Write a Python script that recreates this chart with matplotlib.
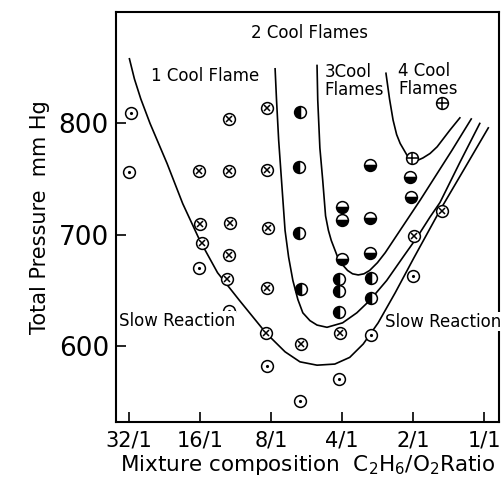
import matplotlib.pyplot as plt
import numpy as np

# x axis is log2 of the C2H6/O2 ratio (32/1 -> 5 ... 1/1 -> 0)
ratio_ticks = [5, 4, 3, 2, 1, 0]
ratio_labels = ["32/1", "16/1", "8/1", "4/1", "2/1", "1/1"]
pressure_ticks = [600, 700, 800]

# boundary curves
slow_x = [4.99, 4.92, 4.83, 4.70, 4.58, 4.46, 4.24, 4.00, 3.75, 3.44, 3.07, 2.80, 2.59, 2.35, 2.10, 1.89, 1.70, 1.49, 1.25, 0.99, 0.62, 0.27, -0.06]
slow_y = [858, 840, 822, 800, 782, 764, 728, 695, 666, 641, 612, 595, 586, 583, 584, 590, 602, 621, 648, 679, 722, 760, 796]

two_x = [2.94, 2.92, 2.89, 2.85, 2.80, 2.75, 2.69, 2.62, 2.55, 2.45, 2.35, 2.21, 1.99, 1.79, 1.61, 1.37, 1.14, 0.94, 0.76, 0.62, 0.34, 0.06]
two_y = [849, 821, 785, 749, 704, 680, 659, 642, 630, 623, 619, 617, 621, 630, 641, 659, 680, 698, 716, 729, 765, 800]

three_x = [2.35, 2.34, 2.31, 2.27, 2.23, 2.19, 2.15, 2.06, 1.99, 1.92, 1.85, 1.77, 1.69, 1.61, 1.50, 1.39, 1.14, 0.90, 0.72, 0.45, 0.18]
three_y = [852, 821, 778, 749, 717, 704, 695, 680, 673, 668, 665, 664, 665, 668, 675, 684, 708, 731, 749, 776, 804]

four_x = [1.38, 1.33, 1.28, 1.23, 1.18, 1.08, 1.00, 0.93, 0.86, 0.76, 0.66, 0.48, 0.34]
four_y = [845, 822, 803, 790, 782, 771, 767, 767, 769, 773, 779, 794, 805]

# experimental points
slow_pts_x = [4.97, 4.99, 4.01, 3.59, 3.06, 2.59, 2.04, 1.59, 1.00]
slow_pts_y = [809, 756, 670, 632, 582, 551, 571, 610, 663]

one_pts_x = [3.59, 3.06, 4.01, 3.59, 3.06, 4.00, 3.58, 3.04, 3.97, 3.59, 3.61, 3.06, 3.07, 2.58, 2.03, 0.99, 0.59]
one_pts_y = [804, 814, 757, 757, 758, 710, 711, 706, 693, 682, 660, 652, 612, 602, 612, 699, 721]

two_pts_x = [2.59, 2.61, 2.61, 2.58, 2.04, 2.04, 2.04, 1.59, 1.59]
two_pts_y = [810, 761, 702, 651, 660, 650, 631, 661, 643]

three_pts_x = [1.61, 1.04, 1.03, 2.00, 2.00, 1.61, 1.61, 2.00]
three_pts_y = [763, 752, 734, 725, 713, 715, 684, 678]

four_pts_x = [1.01, 0.59]
four_pts_y = [769, 818]

fig = plt.figure(figsize=(5.04, 5.0), dpi=100)
ax = fig.add_axes([0.230, 0.156, 0.760, 0.820])

lw = 1.2
for cx, cy in [(slow_x, slow_y), (two_x, two_y), (three_x, three_y), (four_x, four_y)]:
    ax.plot(cx, cy, color="black", lw=lw, zorder=2, solid_joinstyle="round")

ms = 8.5
circ = dict(linestyle="none", marker="o", ms=ms, mec="black", mew=1.1, zorder=3)
ax.plot(slow_pts_x, slow_pts_y, mfc="white", **circ)
ax.plot(slow_pts_x, slow_pts_y, "k.", ms=2.5, zorder=4)
ax.plot(one_pts_x, one_pts_y, mfc="white", **circ)
ax.plot(one_pts_x, one_pts_y, "kx", ms=5, mew=1.1, zorder=4)
ax.plot(two_pts_x, two_pts_y, mfc="black", mfcalt="white", fillstyle="left", **circ)
ax.plot(three_pts_x, three_pts_y, mfc="black", mfcalt="white", fillstyle="bottom", **circ)
ax.plot(four_pts_x, four_pts_y, mfc="white", **circ)
ax.plot(four_pts_x, four_pts_y, "k+", ms=8, mew=1.1, zorder=4)

fs = 12
ax.text(2.46, 881, "2 Cool Flames", fontsize=fs, ha="center", va="center")
ax.text(3.93, 843, "1 Cool Flame", fontsize=fs, ha="center", va="center")
ax.text(2.24, 838, "3Cool\nFlames", fontsize=fs, ha="left", va="center", linespacing=0.95)
ax.text(1.21, 839, "4 Cool\nFlames", fontsize=fs, ha="left", va="center", linespacing=0.95)
box = dict(facecolor="white", edgecolor="none", pad=0.5)
ax.text(5.13, 623, "Slow Reaction", fontsize=fs, ha="left", va="center", bbox=box, zorder=5)
ax.text(1.39, 622, "Slow Reaction", fontsize=fs, ha="left", va="center", bbox=box, zorder=5)

ax.set_xlim(5.18, -0.21)
ax.set_ylim(532, 900)
ax.set_xticks(ratio_ticks)
ax.set_xticklabels(ratio_labels)
ax.set_yticks(pressure_ticks)
ax.tick_params(direction="in", length=7, width=1.2)
ax.tick_params(axis="x", labelsize=15, pad=6)
ax.tick_params(axis="y", labelsize=19, pad=5)
for s in ax.spines.values():
    s.set_linewidth(1.5)

ax.set_ylabel("Total Pressure  mm Hg", fontsize=15, labelpad=6)
ax.set_xlabel(r"Mixture composition  C$_2$H$_6$/O$_2$Ratio", fontsize=15.5, labelpad=2)

fig.savefig("out.png", dpi=100)
